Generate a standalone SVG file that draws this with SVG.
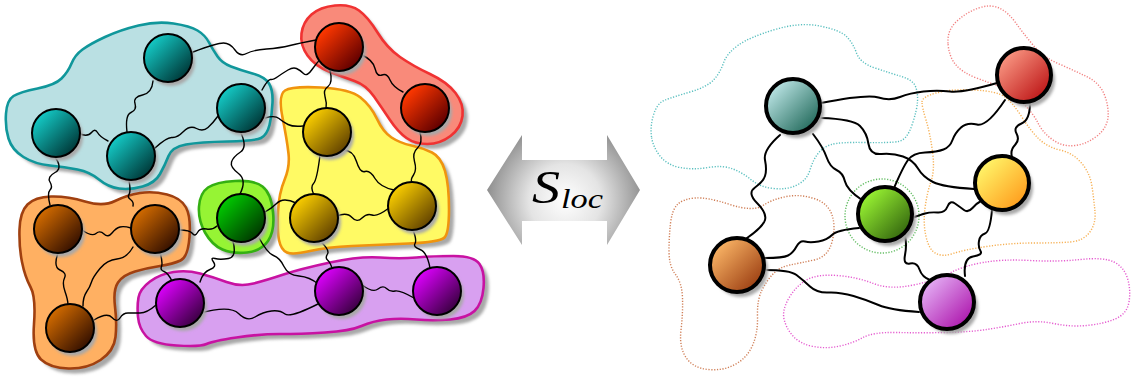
<svg xmlns="http://www.w3.org/2000/svg" xmlns:xlink="http://www.w3.org/1999/xlink" width="1133" height="379" viewBox="0 0 1133 379">
<style>
.sh{fill:#a8a8a8;stroke:none;filter:url(#blur)}
.wire{fill:none;stroke:#000;stroke-width:1.4;stroke-linecap:round}
.wire2{fill:none;stroke:#000;stroke-width:2;stroke-linecap:round}
.ln{stroke:#000;stroke-width:2}
.rn{stroke:#000;stroke-width:4}
.dot{fill:none;stroke-width:1.4;stroke-dasharray:1.2 1.6;opacity:.85}
.bl{stroke-width:2.6}
.math{font-family:"Liberation Serif",serif;font-style:italic;fill:#000}
</style>
<defs>
<filter id="blur" x="-20%" y="-20%" width="140%" height="140%"><feGaussianBlur stdDeviation="1.5"/></filter>
<linearGradient id="gT" x1="0.15" y1="0.15" x2="0.85" y2="0.85"><stop offset="0" stop-color="#14c8c4"/><stop offset="1" stop-color="#003c3c"/></linearGradient>
<linearGradient id="gR" x1="0.15" y1="0.15" x2="0.85" y2="0.85"><stop offset="0" stop-color="#ff3800"/><stop offset="1" stop-color="#620000"/></linearGradient>
<linearGradient id="gY" x1="0.15" y1="0.15" x2="0.85" y2="0.85"><stop offset="0" stop-color="#f8cc00"/><stop offset="1" stop-color="#664600"/></linearGradient>
<linearGradient id="gG" x1="0.15" y1="0.15" x2="0.85" y2="0.85"><stop offset="0" stop-color="#00c800"/><stop offset="1" stop-color="#003c00"/></linearGradient>
<linearGradient id="gB" x1="0.15" y1="0.15" x2="0.85" y2="0.85"><stop offset="0" stop-color="#d06a00"/><stop offset="1" stop-color="#381200"/></linearGradient>
<linearGradient id="gP" x1="0.15" y1="0.15" x2="0.85" y2="0.85"><stop offset="0" stop-color="#d800f8"/><stop offset="1" stop-color="#3e0046"/></linearGradient>
<linearGradient id="hT" x1="0.15" y1="0.15" x2="0.85" y2="0.85"><stop offset="0" stop-color="#b8e2e2"/><stop offset="1" stop-color="#2a7062"/></linearGradient>
<linearGradient id="hR" x1="0.15" y1="0.15" x2="0.85" y2="0.85"><stop offset="0" stop-color="#f89480"/><stop offset="1" stop-color="#c01c1c"/></linearGradient>
<linearGradient id="hY" x1="0.15" y1="0.15" x2="0.85" y2="0.85"><stop offset="0" stop-color="#fff468"/><stop offset="1" stop-color="#ffa020"/></linearGradient>
<linearGradient id="hG" x1="0.15" y1="0.15" x2="0.85" y2="0.85"><stop offset="0" stop-color="#98f232"/><stop offset="1" stop-color="#386c10"/></linearGradient>
<linearGradient id="hO" x1="0.15" y1="0.15" x2="0.85" y2="0.85"><stop offset="0" stop-color="#f8b264"/><stop offset="1" stop-color="#a04416"/></linearGradient>
<linearGradient id="hP" x1="0.15" y1="0.15" x2="0.85" y2="0.85"><stop offset="0" stop-color="#e2aaf2"/><stop offset="1" stop-color="#b01eb0"/></linearGradient>
<radialGradient id="gA" gradientUnits="userSpaceOnUse" cx="565" cy="200" r="80"><stop offset="0" stop-color="#ffffff"/><stop offset="0.45" stop-color="#e4e4e4"/><stop offset="1" stop-color="#8c8c8c"/></radialGradient>
<path id="bT" d="M8.5,138.5 Q5,127 6,113.5 Q7,100 13.5,96 Q20,92 37.5,88.5 Q55,85 61.5,78.5 Q68,72 71.5,63.5 Q75,55 82.5,49.5 Q90,44 105,37 Q120,30 138.5,25.5 Q157,21 173.5,23.5 Q190,26 197.5,30.5 Q205,35 209,42.5 Q213,50 217.5,56.5 Q222,63 231,66.5 Q240,70 252.5,73.5 Q265,77 269,83.5 Q273,90 272.5,102.5 Q272,115 269.5,125 Q267,135 261,138 Q255,141 227.5,141.5 Q200,142 186,144.5 Q172,147 168.5,156 Q165,165 160,174 Q155,183 142.5,186.5 Q130,190 119,188.5 Q108,187 99,179.5 Q90,172 77.5,169.5 Q65,167 50,165.5 Q35,164 23.5,157 Q12,150 8.5,138.5 Z"/>
<path id="bR" d="M307.5,55.5 Q300,45 301.5,33.5 Q303,22 311.5,14.5 Q320,7 335,5.5 Q350,4 359,10.5 Q368,17 377.5,32.5 Q387,48 400,57 Q413,66 430,74 Q447,82 455.5,93 Q464,104 462.5,116 Q461,128 450.5,136 Q440,144 427.5,144 Q415,144 406.5,138 Q398,132 390,120 Q382,108 374,96.5 Q366,85 354.5,81 Q343,77 329,71.5 Q315,66 307.5,55.5 Z"/>
<path id="bY" d="M282.5,117.5 Q278,95 285,90.5 Q292,86 321,87.5 Q350,89 360.5,97.5 Q371,106 377,119 Q383,132 391.5,137.5 Q400,143 411.5,145.5 Q423,148 432,152.5 Q441,157 445,171 Q449,185 449,209 Q449,233 444.5,237.5 Q440,242 408.5,243.5 Q377,245 352,246 Q327,247 310,251 Q293,255 287,252.5 Q281,250 279,240 Q277,230 278,211.5 Q279,193 284.5,180 Q290,167 288.5,153.5 Q287,140 282.5,117.5 Z"/>
<path id="bG" d="M199,206.5 Q200,193 208,187.5 Q216,182 235,181 Q254,180 262.5,186.5 Q271,193 273,212 Q275,231 268,241 Q261,251 247,252.5 Q233,254 222.5,249.5 Q212,245 205,232.5 Q198,220 199,206.5 Z"/>
<path id="bB" d="M19.5,229.5 Q20,212 27.5,204.5 Q35,197 51,196.5 Q67,196 85,201.5 Q103,207 115,201 Q127,195 140,193 Q153,191 167,194.5 Q181,198 186,207.5 Q191,217 189.5,237 Q188,257 180.5,260.5 Q173,264 160,266 Q147,268 135,271.5 Q123,275 118,282.5 Q113,290 115,306.5 Q117,323 115.5,337 Q114,351 100.5,360 Q87,369 68.5,368.5 Q50,368 41,359.5 Q32,351 34,324 Q36,297 30.5,287 Q25,277 22,262 Q19,247 19.5,229.5 Z"/>
<path id="bP" d="M138,317 Q137,306 138.5,297.5 Q140,289 150,281.5 Q160,274 173.5,272 Q187,270 200,273.5 Q213,277 226.5,282 Q240,287 253.5,283.5 Q267,280 283.5,274.5 Q300,269 330,262.5 Q360,256 380,257.5 Q400,259 416.5,257.5 Q433,256 453.5,256 Q474,256 479.5,264 Q485,272 483.5,288 Q482,304 474.5,311 Q467,318 450,319.5 Q433,321 416.5,319.5 Q400,318 386.5,319.5 Q373,321 361.5,326 Q350,331 325,332.5 Q300,334 280,334 Q260,334 236.5,337.5 Q213,341 206.5,344 Q200,347 176.5,345.5 Q153,344 146,336 Q139,328 138,317 Z"/>
<circle id="cl" r="24"/>
<circle id="cr" r="27"/>
</defs>
<rect width="1133" height="379" fill="#fff"/>

<!-- left clusters -->
<g id="cluster-teal"><use href="#bT" class="sh" transform="translate(5,5)"/><use href="#bT" class="bl" fill="#bae0e3" stroke="#10979b"/></g>
<g id="cluster-red"><use href="#bR" class="sh" transform="translate(5,5)"/><use href="#bR" class="bl" fill="#f98a7a" stroke="#f03232"/></g>
<g id="cluster-yellow"><use href="#bY" class="sh" transform="translate(5,5)"/><use href="#bY" class="bl" fill="#fffa64" stroke="#f0940e"/></g>
<g id="cluster-green"><use href="#bG" class="sh" transform="translate(5,5)"/><use href="#bG" class="bl" fill="#96f434" stroke="#34b012"/></g>
<g id="cluster-brown"><use href="#bB" class="sh" transform="translate(5,5)"/><use href="#bB" class="bl" fill="#ffb062" stroke="#a04010"/></g>
<g id="cluster-purple"><use href="#bP" class="sh" transform="translate(5,5)"/><use href="#bP" class="bl" fill="#d8a0f0" stroke="#c812a2"/></g>

<!-- right cluster outlines -->
<g id="outline-teal"><path class="dot" stroke="#3cb4b4" d="M651.5,137 Q650,127 653.5,115 Q657,103 665,100 Q673,97 690,92 Q707,87 713.5,80 Q720,73 723.5,63 Q727,53 738.5,45 Q750,37 775,29.5 Q800,22 820,26 Q840,30 846.5,36.5 Q853,43 856.5,53 Q860,63 875,68 Q890,73 901.5,76.5 Q913,80 915.5,86.5 Q918,93 917.5,101.5 Q917,110 912,125 Q907,140 898.5,141.5 Q890,143 865,142.5 Q840,142 831.5,144.5 Q823,147 818,153.5 Q813,160 810,170 Q807,180 797,185 Q787,190 773.5,188.5 Q760,187 751.5,180 Q743,173 733,169 Q723,165 708,167.5 Q693,170 680,167.5 Q667,165 660,156 Q653,147 651.5,137 Z"/></g>
<g id="outline-red"><path class="dot" stroke="#f06a6a" d="M948,43.5 Q947,30 957,21 Q967,12 978.5,8 Q990,4 999,8 Q1008,12 1015.5,22.5 Q1023,33 1033,45 Q1043,57 1058,63.5 Q1073,70 1086.5,76.5 Q1100,83 1104.5,95 Q1109,107 1108,117.5 Q1107,128 1097,136 Q1087,144 1075,145.5 Q1063,147 1053,140 Q1043,133 1038,123 Q1033,113 1021.5,101.5 Q1010,90 1000,86.5 Q990,83 976.5,78 Q963,73 956,65 Q949,57 948,43.5 Z"/></g>
<g id="outline-yellow"><path class="dot" stroke="#f4a236" d="M922,102 Q922,97 936,93 Q950,89 973.5,90 Q997,91 1005,97 Q1013,103 1021.5,116.5 Q1030,130 1038.5,138.5 Q1047,147 1060,150 Q1073,153 1081.5,163 Q1090,173 1092,186.5 Q1094,200 1095,212 Q1096,224 1089.5,232.5 Q1083,241 1070,242 Q1057,243 1033.5,243 Q1010,243 986.5,246.5 Q963,250 953,253.5 Q943,257 936,253.5 Q929,250 926,236.5 Q923,223 925,208 Q927,193 931,181.5 Q935,170 932.5,151.5 Q930,133 926,120 Q922,107 922,102 Z"/></g>
<g id="outline-green"><circle class="dot" stroke="#44b044" cx="882" cy="216" r="37"/></g>
<g id="outline-orange"><path class="dot" stroke="#c8683a" d="M669,251.5 Q669,237 670.5,223.5 Q672,210 677.5,204.5 Q683,199 695,198 Q707,197 730,204.5 Q753,212 763,205.5 Q773,199 786.5,196.5 Q800,194 814,198.5 Q828,203 832,215 Q836,227 832,242 Q828,257 814,260 Q800,263 790,265 Q780,267 773.5,273.5 Q767,280 762,290 Q757,300 757.5,316.5 Q758,333 752.5,345.5 Q747,358 735,364.5 Q723,371 708,369.5 Q693,368 686,357.5 Q679,347 681,330 Q683,313 682.5,298 Q682,283 675.5,274.5 Q669,266 669,251.5 Z"/></g>
<g id="outline-purple"><path class="dot" stroke="#e040c8" d="M784,319 Q782,310 789,298 Q796,286 806.5,280 Q817,274 837,275.5 Q857,277 873.5,283.5 Q890,290 913.5,285 Q937,280 950,273 Q963,266 983,262.5 Q1003,259 1030,260.5 Q1057,262 1080.5,259.5 Q1104,257 1114,262 Q1124,267 1127.5,278.5 Q1131,290 1129,302 Q1127,314 1115,319 Q1103,324 1086.5,325.5 Q1070,327 1053.5,323.5 Q1037,320 1020,323.5 Q1003,327 986.5,329.5 Q970,332 945,332.5 Q920,333 896.5,332.5 Q873,332 863,337.5 Q853,343 840,346 Q827,349 813.5,346.5 Q800,344 793,336 Q786,328 784,319 Z"/></g>

<!-- connectors -->
<g id="connectors">
<path class="wire" d="M193,52 Q217,43 223.5,43 Q230,43 235,50 Q240,57 246.5,53.5 Q253,50 266.5,49 Q280,48 290,45.5 Q300,43 316,40"/>
<path class="wire" d="M262,90 Q268,79 270.5,79.5 Q273,80 278,76.5 Q283,73 288,70 Q293,67 296.5,68.5 Q300,70 303.5,73.5 Q307,77 312,69.5 Q317,62 322,58"/>
<path class="wire" d="M265,118 Q275,115 279,118.5 Q283,122 288,124.5 Q293,127 303,126"/>
<path class="wire" d="M362,55 Q373,60 375,68.5 Q377,77 382,75 Q387,73 390,80 Q393,87 403,92"/>
<path class="wire" d="M330,70 Q333,83 328,86.5 Q323,90 325,96.5 Q327,103 326,109"/>
<path class="wire" d="M420,132 Q423,143 417.5,148 Q412,153 414.5,161.5 Q417,170 413.5,175 Q410,180 412,183"/>
<path class="wire" d="M343,150 Q353,150 356.5,161.5 Q360,173 365,171.5 Q370,170 375,178.5 Q380,187 394,190"/>
<path class="wire" d="M320,155 Q317,180 313.5,183.5 Q310,187 314,195"/>
<path class="wire" d="M337,216 Q347,212 352,217.5 Q357,223 362,218 Q367,213 372,215 Q377,217 389,208"/>
<path class="wire" d="M265,212 Q272,208 276,204 Q280,200 285,200 Q290,200 296,203"/>
<path class="wire" d="M240,131 Q248,147 240.5,152 Q233,157 231.5,162 Q230,167 238.5,173.5 Q247,180 240,194"/>
<path class="wire" d="M179,230 Q190,230 192.5,233.5 Q195,237 197.5,232.5 Q200,228 206.5,229 Q213,230 217,226"/>
<path class="wire" d="M233,241 Q237,257 228.5,258.5 Q220,260 215,258.5 Q210,257 213.5,262 Q217,267 210,269.5 Q203,272 200,282"/>
<path class="wire" d="M258,236 Q267,253 273.5,255.5 Q280,258 284,266.5 Q288,275 299,276 Q310,277 318,284"/>
<path class="wire" d="M320,241 Q330,250 327.5,254 Q325,258 327.5,260 Q330,262 332,268"/>
<path class="wire" d="M413,230 Q417,240 415,243.5 Q413,247 420,249.5 Q427,252 430,268"/>
<path class="wire" d="M362,285 Q373,293 378,289 Q383,285 386.5,288.5 Q390,292 395,291 Q400,290 414,298"/>
<path class="wire" d="M200,313 Q230,305 238.5,313.5 Q247,322 255,317 Q263,312 271.5,311 Q280,310 285,314 Q290,318 318,304"/>
<path class="wire" d="M82,230 Q92,237 96,233.5 Q100,230 104,234 Q108,238 112,233 Q116,228 120,227 Q124,226 131,228"/>
<path class="wire" d="M58,253 Q53,267 60,270 Q67,273 64.5,278 Q62,283 65,291.5 Q68,300 68,305"/>
<path class="wire" d="M133,247 Q127,258 117,259 Q107,260 100,268.5 Q93,277 91.5,282 Q90,287 86.5,292 Q83,297 83,306"/>
<path class="wire" d="M94,320 Q107,312 112,317.5 Q117,323 120,318 Q123,313 128,313 Q133,313 140,313 Q147,313 156,305"/>
<path class="wire" d="M160,252 Q163,263 161.5,266.5 Q160,270 164,271.5 Q168,273 172,281"/>
<path class="wire" d="M129,180 Q131,192 129,194.5 Q127,197 130.5,199.5 Q134,202 133,206"/>
<path class="wire" d="M55,157 Q63,168 55,172.5 Q47,177 50,182 Q53,187 50,190 Q47,193 50,205"/>
<path class="wire" d="M80,134 Q88,137 91.5,132.5 Q95,128 97.5,132.5 Q100,137 108,141"/>
<path class="wire" d="M153,81 Q152,93 142.5,95 Q133,97 135,103.5 Q137,110 131,112.5 Q125,115 127,132"/>
<path class="wire" d="M155,148 Q167,137 172,137.5 Q177,138 183.5,131.5 Q190,125 196.5,128.5 Q203,132 208,127.5 Q213,123 218,116"/>

<path class="wire2" d="M821,103 Q867,94 878.5,97.5 Q890,101 900,97 Q910,93 923.5,91.5 Q937,90 950,91.5 Q963,93 997,83"/>
<path class="wire2" d="M821,118 Q853,119 860,126 Q867,133 868.5,144 Q870,155 881.5,154 Q893,153 903,156.5 Q913,160 918,168.5 Q923,177 933,182 Q943,187 974,189"/>
<path class="wire2" d="M780,135 Q763,150 765,160 Q767,170 765,176 Q763,182 755,187.5 Q747,193 757,203 Q767,213 765,220 Q763,227 747,238"/>
<path class="wire2" d="M813,134 Q823,147 826.5,157 Q830,167 836.5,170 Q843,173 845,181.5 Q847,190 862,200"/>
<path class="wire2" d="M1005,100 Q987,127 977,124.5 Q967,122 961,127.5 Q955,133 952.5,140 Q950,147 943.5,149.5 Q937,152 925,152.5 Q913,153 908,160 Q903,167 894,188"/>
<path class="wire2" d="M1030,103 Q1030,120 1021.5,123.5 Q1013,127 1016.5,133.5 Q1020,140 1015,145 Q1010,150 1012,157"/>
<path class="wire2" d="M912,218 Q920,215 925,213.5 Q930,212 937.5,212.5 Q945,213 947.5,206.5 Q950,200 955,203.5 Q960,207 964,210 Q968,213 972.5,208 Q977,203 981,201"/>
<path class="wire2" d="M905,236 Q907,245 905,255 Q903,265 910,263.5 Q917,262 919.5,269.5 Q922,277 930,280"/>
<path class="wire2" d="M992,210 Q990,232 985,233.5 Q980,235 979,241 Q978,247 980.5,251 Q983,255 973,256.5 Q963,258 965,276"/>
<path class="wire2" d="M765,258 Q783,258 788,255.5 Q793,253 796.5,246.5 Q800,240 805,241.5 Q810,243 818.5,241.5 Q827,240 832,235 Q837,230 859,228"/>
<path class="wire2" d="M765,270 Q790,270 796.5,275 Q803,280 810,286.5 Q817,293 828.5,292.5 Q840,292 853.5,296 Q867,300 878.5,305 Q890,310 919,312"/>
</g>

<!-- left nodes -->
<g id="n-t1"><use href="#cl" class="sh" x="171" y="62"/><use href="#cl" class="ln" x="168" y="58" fill="url(#gT)"/></g>
<g id="n-t2"><use href="#cl" class="sh" x="244" y="112"/><use href="#cl" class="ln" x="241" y="108" fill="url(#gT)"/></g>
<g id="n-t3"><use href="#cl" class="sh" x="59" y="137"/><use href="#cl" class="ln" x="56" y="133" fill="url(#gT)"/></g>
<g id="n-t4"><use href="#cl" class="sh" x="134" y="160"/><use href="#cl" class="ln" x="131" y="156" fill="url(#gT)"/></g>
<g id="n-r1"><use href="#cl" class="sh" x="342" y="51"/><use href="#cl" class="ln" x="339" y="47" fill="url(#gR)"/></g>
<g id="n-r2"><use href="#cl" class="sh" x="428" y="112"/><use href="#cl" class="ln" x="425" y="108" fill="url(#gR)"/></g>
<g id="n-y1"><use href="#cl" class="sh" x="330" y="136"/><use href="#cl" class="ln" x="327" y="132" fill="url(#gY)"/></g>
<g id="n-y2"><use href="#cl" class="sh" x="415" y="210"/><use href="#cl" class="ln" x="412" y="206" fill="url(#gY)"/></g>
<g id="n-y3"><use href="#cl" class="sh" x="317" y="222"/><use href="#cl" class="ln" x="314" y="218" fill="url(#gY)"/></g>
<g id="n-g1"><use href="#cl" class="sh" x="244" y="222"/><use href="#cl" class="ln" x="241" y="218" fill="url(#gG)"/></g>
<g id="n-b1"><use href="#cl" class="sh" x="61" y="233"/><use href="#cl" class="ln" x="58" y="229" fill="url(#gB)"/></g>
<g id="n-b2"><use href="#cl" class="sh" x="158" y="233"/><use href="#cl" class="ln" x="155" y="229" fill="url(#gB)"/></g>
<g id="n-b3"><use href="#cl" class="sh" x="73" y="332"/><use href="#cl" class="ln" x="70" y="328" fill="url(#gB)"/></g>
<g id="n-p1"><use href="#cl" class="sh" x="183" y="307"/><use href="#cl" class="ln" x="180" y="303" fill="url(#gP)"/></g>
<g id="n-p2"><use href="#cl" class="sh" x="342" y="295"/><use href="#cl" class="ln" x="339" y="291" fill="url(#gP)"/></g>
<g id="n-p3"><use href="#cl" class="sh" x="440" y="295"/><use href="#cl" class="ln" x="437" y="291" fill="url(#gP)"/></g>

<!-- middle arrow -->
<g id="arrow">
<polygon points="487,190 522,135 522,160 607,160 607,135 640,190 607,245 607,221 522,221 522,245" fill="url(#gA)"/>
<text class="math" transform="translate(532,203) scale(1.22,1)" font-size="46">S</text>
<text class="math" x="561" y="208" font-size="28" textLength="42" lengthAdjust="spacingAndGlyphs">loc</text>
</g>

<!-- right nodes -->
<g id="m-teal"><use href="#cr" class="sh" x="797" y="111"/><use href="#cr" class="rn" x="793" y="106" fill="url(#hT)"/></g>
<g id="m-red"><use href="#cr" class="sh" x="1028" y="80"/><use href="#cr" class="rn" x="1024" y="75" fill="url(#hR)"/></g>
<g id="m-yellow"><use href="#cr" class="sh" x="1006" y="188"/><use href="#cr" class="rn" x="1002" y="183" fill="url(#hY)"/></g>
<g id="m-green"><use href="#cr" class="sh" x="889" y="219"/><use href="#cr" class="rn" x="885" y="214" fill="url(#hG)"/></g>
<g id="m-orange"><use href="#cr" class="sh" x="741" y="270"/><use href="#cr" class="rn" x="737" y="265" fill="url(#hO)"/></g>
<g id="m-purple"><use href="#cr" class="sh" x="951" y="307"/><use href="#cr" class="rn" x="947" y="302" fill="url(#hP)"/></g>
</svg>
